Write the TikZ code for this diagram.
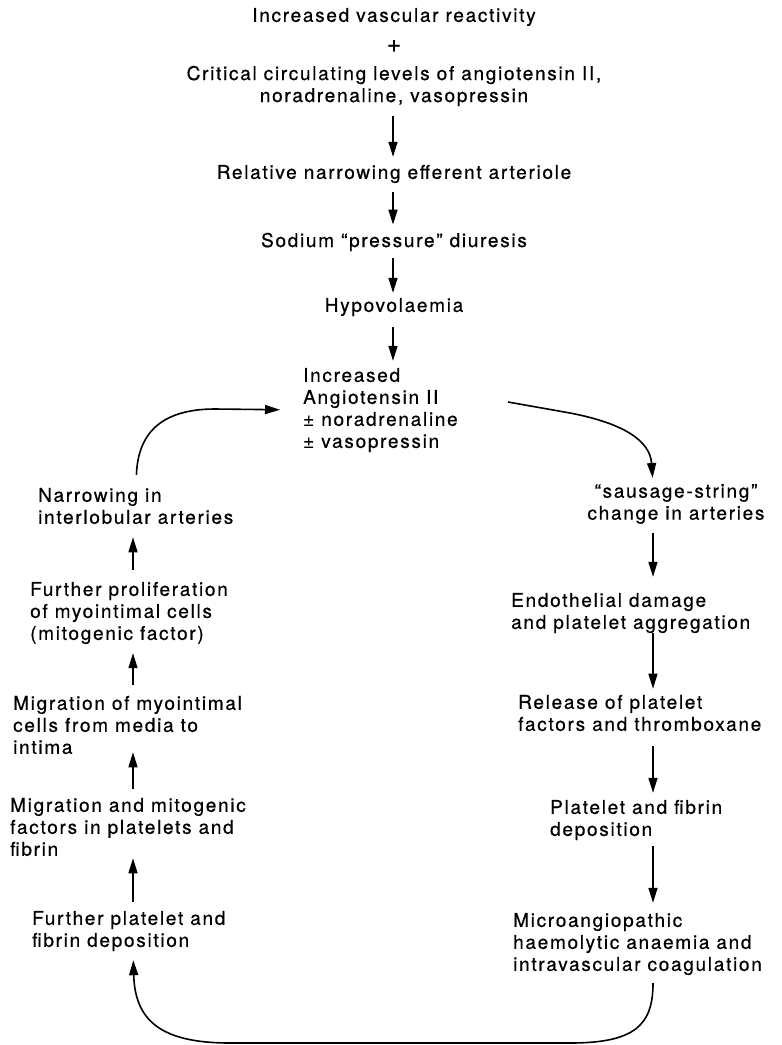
\documentclass[tikz,border=0pt]{standalone}
\usepackage{fontspec}
\setmainfont[LetterSpace=9,FakeBold=0.6]{TeX Gyre Heros}
\usetikzlibrary{arrows.meta}

\begin{document}
\begin{tikzpicture}[x=1pt,y=1pt,
        testo/.style={inner sep=0pt,font=\fontsize{19}{22}\selectfont},
        sx/.style={testo,align=left,anchor=west},
        cx/.style={testo,align=center},
        freccia/.style={line width=1.6pt,-{Triangle[length=15pt,width=9pt]},
                        shorten <=9pt,shorten >=7pt}]
        \useasboundingbox (0,0) rectangle (782,-1045);
        %colonne delle frecce
        \coordinate (ccol) at (393,0);
        \coordinate (lcol) at (133,0);
        \coordinate (rcol) at (653,0);

        %colonna centrale
        \node[cx] (vasc) at (394,-17) {Increased vascular reactivity};
        \node[cx,font=\fontsize{25}{25}\selectfont] (piu) at (394,-46) {+};
        \node[cx] (crit) at (394,-86) {Critical circulating levels of angiotensin II,\\noradrenaline, vasopressin};
        \node[cx] (eff) at (394,-174) {Relative narrowing efferent arteriole};
        \node[cx] (sod) at (394,-242) {Sodium “pressure” diuresis};
        \node[cx] (hypo) at (394,-307) {Hypovolaemia};
        \node[sx] (angio) at (303,-410) {Increased\\Angiotensin II\\\textpm\ noradrenaline\\\textpm\ vasopressin};

        %colonna destra
        \node[cx] (saus) at (676,-504) {“sausage-string”\\change in arteries};
        \node[sx] (endo) at (511,-613) {Endothelial damage\\and platelet aggregation};
        \node[sx] (rel) at (518,-713) {Release of platelet\\factors and thromboxane};
        \node[sx] (plat) at (550,-820) {Platelet and fibrin\\deposition};
        \node[sx] (micro) at (513,-944) {Microangiopathic\\haemolytic anaemia and\\intravascular coagulation};

        %colonna sinistra
        \node[sx] (narr) at (38,-506) {Narrowing in\\interlobular arteries};
        \node[sx] (prol) at (30,-613) {Further proliferation\\of myointimal cells\\(mitogenic factor)};
        \node[sx] (migr) at (13,-725) {Migration of myointimal\\cells from media to\\intima};
        \node[sx] (mito) at (10,-827) {Migration and mitogenic\\factors in platelets and\\fibrin};
        \node[sx] (fpl) at (32,-931) {Further platelet and\\fibrin deposition};

        %frecce centrali
        \draw[freccia,shorten <=10pt,shorten >=8pt] (crit.south -| ccol) -- (eff.north -| ccol);
        \draw[freccia,shorten >=8pt] (eff.south -| ccol) -- (sod.north -| ccol);
        \draw[freccia,shorten <=7pt,shorten >=5pt] (sod.south -| ccol) -- (hypo.north -| ccol);
        \draw[freccia,shorten <=11pt] (hypo.south -| ccol) -- (angio.north -| ccol);

        %frecce a destra
        \draw[freccia,shorten <=0pt,shorten >=6pt] ([shift={(205,8)}]angio.west) -- (570,-413)
                .. controls (622,-423) and (650,-440) .. (saus.north -| rcol);
        \draw[freccia,shorten >=16pt] (saus.south -| rcol) -- (endo.north -| rcol);
        \draw[freccia,shorten <=0pt,shorten >=6pt] (endo.south -| rcol) -- (rel.north -| rcol);
        \draw[freccia,shorten <=15pt] (rel.south -| rcol) -- (plat.north -| rcol);
        \draw[freccia,shorten <=6pt,shorten >=10pt] (plat.south -| rcol) -- (micro.north -| rcol);

        %giro in basso
        \draw[freccia,shorten <=8pt,shorten >=9pt] (micro.south -| rcol) .. controls (653,-1025) and (635,-1043) .. (570,-1043)
                -- (230,-1043) .. controls (160,-1043) and (135,-1020) .. (fpl.south -| lcol);

        %frecce a sinistra
        \draw[freccia,shorten >=2pt] (fpl.north -| lcol) -- (mito.south -| lcol);
        \draw[freccia,shorten >=-2pt] (mito.north -| lcol) -- (migr.south -| lcol);
        \draw[freccia,shorten <=11pt,shorten >=9pt] (migr.north -| lcol) -- (prol.south -| lcol);
        \draw[freccia,shorten <=12pt,shorten >=13pt] (prol.north -| lcol) -- (narr.south -| lcol);

        %giro in alto
        \draw[freccia,shorten <=13pt,shorten >=23pt] ([xshift=3pt]narr.north -| lcol)
                .. controls (138,-430) and (165,-409) .. (215,-409) -- (angio.west);
\end{tikzpicture}
\end{document}
